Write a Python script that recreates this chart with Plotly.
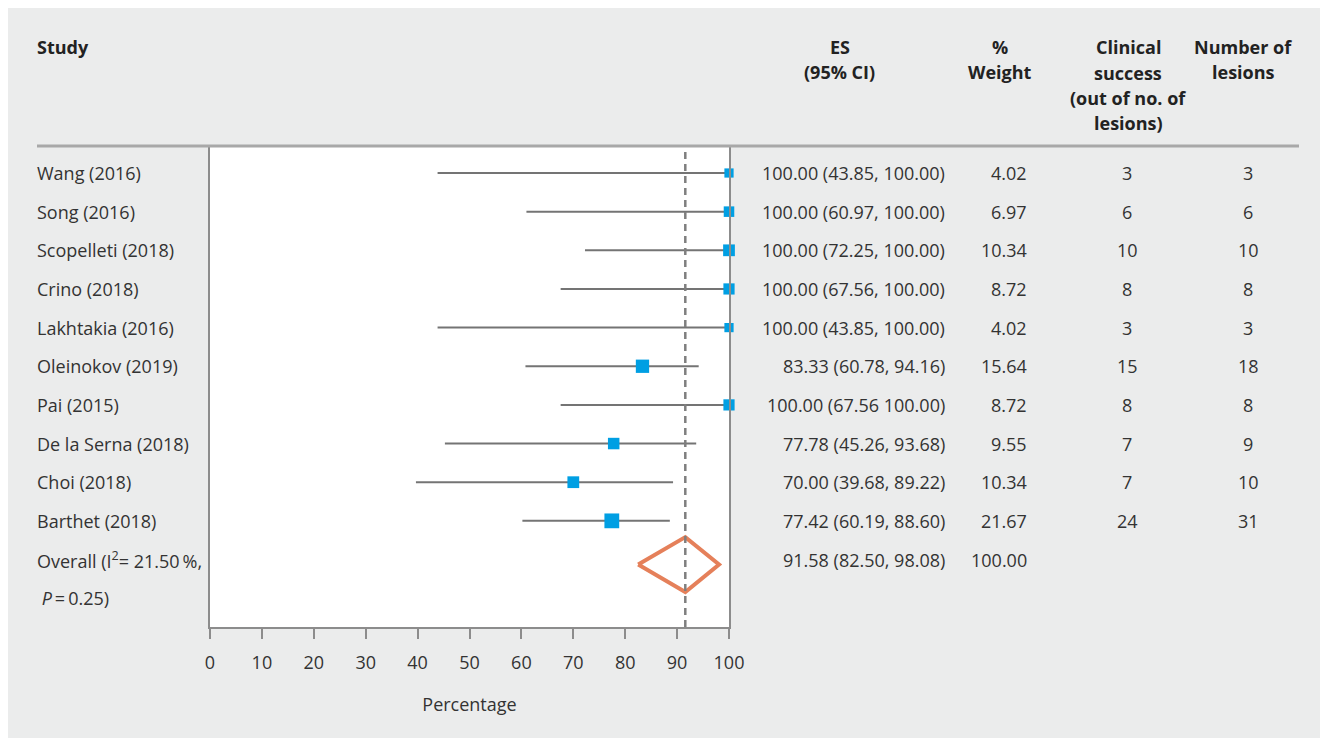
import plotly.graph_objects as go

# ---------------- data ----------------
studies = ["Wang (2016)", "Song (2016)", "Scopelleti (2018)", "Crino (2018)",
           "Lakhtakia (2016)", "Oleinokov (2019)", "Pai (2015)",
           "De la Serna (2018)", "Choi (2018)", "Barthet (2018)"]
es = [100.00, 100.00, 100.00, 100.00, 100.00, 83.33, 100.00, 77.78, 70.00, 77.42]
ci_low = [43.85, 60.97, 72.25, 67.56, 43.85, 60.78, 67.56, 45.26, 39.68, 60.19]
ci_high = [100.00, 100.00, 100.00, 100.00, 100.00, 94.16, 100.00, 93.68, 89.22, 88.60]
es_text = ["100.00 (43.85, 100.00)", "100.00 (60.97, 100.00)", "100.00 (72.25, 100.00)",
           "100.00 (67.56, 100.00)", "100.00 (43.85, 100.00)", "83.33 (60.78, 94.16)",
           "100.00 (67.56 100.00)", "77.78 (45.26, 93.68)", "70.00 (39.68, 89.22)",
           "77.42 (60.19, 88.60)"]
weights = [4.02, 6.97, 10.34, 8.72, 4.02, 15.64, 8.72, 9.55, 10.34, 21.67]
success = [3, 6, 10, 8, 3, 15, 8, 7, 7, 24]
lesions = [3, 6, 10, 8, 3, 18, 8, 9, 10, 31]
overall_es = 91.58
overall_low = 82.50
overall_high = 98.08
overall_text = "91.58 (82.50, 98.08)"
overall_weight = "100.00"
x_ticks = [0, 10, 20, 30, 40, 50, 60, 70, 80, 90, 100]

# ---------------- layout helpers ----------------
OFF = 8                      # page body margin
W, H = 1320, 730
FONT = "Open Sans"
FS = 18
TXT = "#333333"
GRID = "#8c8c8c"
BG = "#ebecec"
BLUE = "#009fe3"
ORANGE = "#e5805a"

def px(x):
    return (x - OFF) / W

def py(y):
    return 1 - (y - OFF) / H

row0, row_step = 173, 38.65
plot_top, plot_bot = 147, 627
y_range = [(plot_bot - row0) / row_step, (plot_top - row0) / row_step]

rows = list(range(len(studies)))
overall_row = len(studies)

fig = go.Figure()

# CI lines
for i in rows:
    fig.add_trace(go.Scatter(x=[ci_low[i], ci_high[i]], y=[i, i], mode="lines",
                             line=dict(color="#747474", width=2),
                             hoverinfo="skip", showlegend=False))

# point estimates
fig.add_trace(go.Scatter(x=es, y=rows, mode="markers",
                         marker=dict(symbol="square", color=BLUE, opacity=1,
                                     size=[5 + 2.1 * w ** 0.5 for w in weights],
                                     line=dict(width=0)),
                         showlegend=False, cliponaxis=False))

# overall diamond
dc = overall_row + 0.13
dh = 0.71
fig.add_trace(go.Scatter(x=[overall_low, overall_es, overall_high, overall_es, overall_low],
                         y=[dc, dc - dh, dc, dc + dh, dc], mode="lines",
                         line=dict(color=ORANGE, width=4),
                         showlegend=False))

shapes = [
    dict(type="rect", xref="x", yref="paper", x0=0, x1=100, y0=py(plot_bot), y1=py(plot_top),
         fillcolor="white", line=dict(width=0), layer="below"),
    dict(type="line", xref="paper", yref="paper", x0=px(37), x1=px(1299), y0=py(146), y1=py(146),
         line=dict(color="#a8a8a8", width=3)),
    dict(type="line", xref="x", yref="paper", x0=overall_es, x1=overall_es,
         y0=py(plot_bot), y1=py(plot_top), line=dict(color="#7f7f7f", width=2.5, dash="7px,5px")),
]

ann = []
def text(x, y, s, anchor="left"):
    ann.append(dict(x=px(x), y=y, xref="paper", yref="y",
                    text=s, showarrow=False, xanchor=anchor, yanchor="middle",
                    font=dict(family=FONT, size=FS, color=TXT)))

def header(x, y, s, anchor="center"):
    ann.append(dict(x=px(x), y=py(y), xref="paper", yref="paper", text="<b>" + s + "</b>",
                    showarrow=False, xanchor=anchor, yanchor="middle",
                    font=dict(family=FONT, size=FS, color="#222222")))

header(35, 47, "Study", "left")
header(840, 47, "ES")
header(840, 72, "(95% CI)")
header(1000, 47, "%")
header(1000, 72, "Weight")
for k, s in enumerate(["Clinical", "success", "(out of no. of", "lesions)"]):
    header(1128, 47 + k * 25.5, s)
header(1243, 47, "Number of")
header(1243, 72, "lesions")

for i in rows:
    text(35, i, studies[i])
    text(947, i, es_text[i], "right")
    text(1029, i, f"{weights[i]:.2f}", "right")
    text(1127, i, str(success[i]), "center")
    text(1248, i, str(lesions[i]), "center")

text(35, overall_row, "Overall (I<sup>2</sup>= 21.50\u2009%,")
text(35, overall_row + 1, " <i>P</i>\u2009=\u20090.25)")
text(947, overall_row, overall_text, "right")
text(1029, overall_row, overall_weight, "right")

fig.update_layout(
    width=W, height=H, autosize=False,
    margin=dict(l=0, r=0, t=0, b=0),
    paper_bgcolor=BG, plot_bgcolor="white",
    shapes=shapes, annotations=ann,
    font=dict(family=FONT, size=FS, color=TXT),
    xaxis=dict(domain=[px(210), px(729)], range=[0, 100], tickvals=x_ticks,
               showgrid=False, zeroline=False, showline=True, linecolor=GRID, linewidth=2,
               ticks="outside", ticklen=10, tickwidth=1.5, tickcolor=GRID,
               ticklabelstandoff=8,
               tickfont=dict(family=FONT, size=FS, color=TXT),
               title=dict(text="Percentage", standoff=26,
                          font=dict(family=FONT, size=FS, color=TXT)),
               automargin=False, fixedrange=True),
    yaxis=dict(domain=[py(plot_bot), py(plot_top)], range=y_range, showgrid=False,
               zeroline=False, showline=True, mirror=True, linecolor=GRID, linewidth=2,
               showticklabels=False, ticks="", automargin=False, fixedrange=True),
    showlegend=False,
)

fig.write_html("out.html")
